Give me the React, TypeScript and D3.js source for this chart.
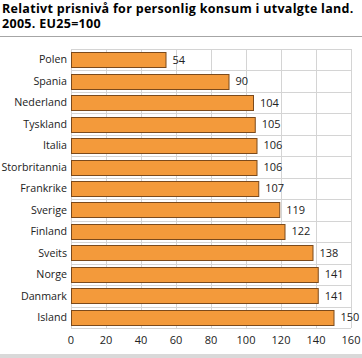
import React, { useEffect, useRef } from "react"
import * as d3 from "d3"

const countries = [
	"Polen",
	"Spania",
	"Nederland",
	"Tyskland",
	"Italia",
	"Storbritannia",
	"Frankrike",
	"Sverige",
	"Finland",
	"Sveits",
	"Norge",
	"Danmark",
	"Island",
]
const values = [54, 90, 104, 105, 106, 106, 107, 119, 122, 138, 141, 141, 150]
const xTicks = [0, 20, 40, 60, 80, 100, 120, 140, 160]
const titleLines = [
	"Relativt prisnivå for personlig konsum i utvalgte land.",
	"2005. EU25=100",
]

const W = 362
const H = 358
const margin = { top: 49, right: 11, bottom: 30, left: 71 }

const App: React.FC = () => {
	const ref = useRef<SVGSVGElement>(null)

	useEffect(() => {
		const svg = d3.select(ref.current)
		svg.selectAll("*").remove()
		const innerWidth = W - margin.left - margin.right
		const innerHeight = H - margin.top - margin.bottom

		const font = "'Open Sans', sans-serif"

		// title
		svg.append("g")
			.selectAll("text")
			.data(titleLines)
			.join("text")
			.attr("x", 2)
			.attr("y", (d, i) => 13 + i * 15)
			.attr("font-family", font)
			.attr("font-weight", "bold")
			.attr("font-size", 12.5)
			.attr("letter-spacing", 0.3)
			.attr("fill", "#000")
			.text((d) => d)

		svg.append("line")
			.attr("x1", 0)
			.attr("x2", W)
			.attr("y1", 36.5)
			.attr("y2", 36.5)
			.attr("stroke", "#a6a6a6")
			.attr("stroke-width", 1)

		svg.append("rect")
			.attr("x", 0)
			.attr("y", H - 4)
			.attr("width", W)
			.attr("height", 4)
			.attr("fill", "#d9d9d9")

		const x = d3.scaleLinear().domain([0, 160]).range([0, innerWidth])
		const y = d3
			.scaleBand()
			.domain(countries)
			.range([0, innerHeight])
			.paddingInner(0.3)
			.paddingOuter(0.15)
		const step = innerHeight / countries.length

		const g = svg
			.append("g")
			.attr("transform", `translate(${margin.left},${margin.top})`)

		// grid
		g.selectAll(".vgrid")
			.data(xTicks)
			.join("line")
			.attr("x1", (d) => Math.round(x(d)) + 0.5)
			.attr("x2", (d) => Math.round(x(d)) + 0.5)
			.attr("y1", 0)
			.attr("y2", innerHeight)
			.attr("stroke", "#d4d4d4")
		g.selectAll(".hgrid")
			.data(d3.range(countries.length + 1))
			.join("line")
			.attr("x1", 0)
			.attr("x2", innerWidth)
			.attr("y1", (d) => Math.round(d * step) + 0.5)
			.attr("y2", (d) => Math.round(d * step) + 0.5)
			.attr("stroke", "#d4d4d4")

		// bars
		g.selectAll(".bar")
			.data(countries)
			.join("rect")
			.attr("x", 0.5)
			.attr("y", (d) => Math.round(y(d)!) + 0.5)
			.attr("width", (d, i) => x(values[i]))
			.attr("height", Math.round(y.bandwidth()))
			.attr("fill", "#f39a3b")
			.attr("stroke", "#7b4a1c")
			.attr("stroke-width", 1)

		// value labels
		g.selectAll(".val")
			.data(countries)
			.join("text")
			.attr("x", (d, i) => x(values[i]) + 7)
			.attr("y", (d) => y(d)! + y.bandwidth() / 2)
			.attr("dy", "0.35em")
			.attr("font-family", font)
			.attr("font-size", 11)
			.attr("fill", "#222")
			.text((d, i) => values[i])

		// category labels
		g.selectAll(".cat")
			.data(countries)
			.join("text")
			.attr("x", -4)
			.attr("y", (d) => y(d)! + y.bandwidth() / 2)
			.attr("dy", "0.35em")
			.attr("text-anchor", "end")
			.attr("font-family", font)
			.attr("font-size", 10.7)
			.attr("fill", "#222")
			.text((d) => d)

		// x tick labels
		g.selectAll(".xt")
			.data(xTicks)
			.join("text")
			.attr("x", (d) => x(d))
			.attr("y", innerHeight + 16)
			.attr("text-anchor", "middle")
			.attr("font-family", font)
			.attr("font-size", 11)
			.attr("fill", "#222")
			.text((d) => d)
	}, [])

	return (
		<div style={{ position: "absolute", left: 0, top: 0 }}>
			<svg ref={ref} width={W} height={H} style={{ display: "block", background: "#fff" }} />
		</div>
	)
}

export default App
